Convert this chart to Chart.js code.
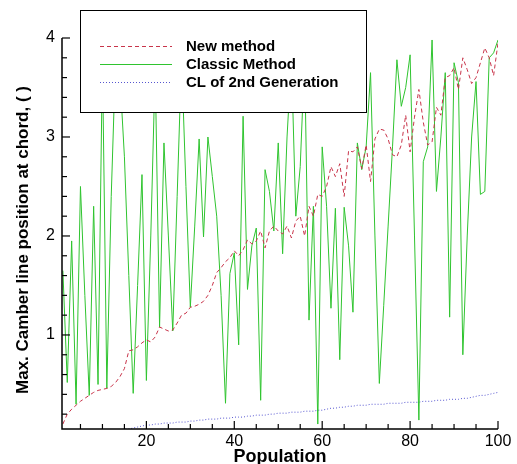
<!DOCTYPE html>
<html>
<head>
<meta charset="utf-8">
<script src="https://cdn.jsdelivr.net/npm/chart.js@4.4.0/dist/chart.umd.min.js"></script>
<style>
body { margin: 0; background: #fff; }
</style>
</head>
<body>
<canvas id="chart_camber" width="517" height="464"></canvas>
<script>
var population = Array.from({length: 100}, function (_, i) { return i + 1; });

var newMethod = [
  0.10, 0.20, 0.25, 0.29, 0.33, 0.36, 0.39, 0.42, 0.44, 0.45,
  0.46, 0.48, 0.52, 0.58, 0.66, 0.84, 0.85, 0.88, 0.92, 0.95,
  0.93, 0.98, 1.08, 1.06, 1.04, 1.05, 1.12, 1.20, 1.22, 1.28,
  1.29, 1.31, 1.34, 1.40, 1.50, 1.63, 1.68, 1.74, 1.78, 1.85,
  1.80, 1.86, 1.96, 1.92, 1.95, 2.05, 1.88, 2.05, 2.10, 2.05,
  2.02, 2.10, 1.98, 2.15, 2.20, 2.00, 2.30, 2.20, 2.42, 2.40,
  2.50, 2.70, 2.60, 2.73, 2.40, 2.86, 2.85, 2.90, 2.68, 2.92,
  2.55, 2.98, 3.08, 3.07, 2.98, 2.82, 2.80, 2.92, 3.22, 2.85,
  3.20, 3.48, 3.15, 2.92, 2.95, 3.30, 3.22, 3.60, 3.62, 3.70,
  3.48, 3.80, 3.68, 3.54, 3.60, 3.75, 3.90, 3.80, 3.62, 3.95
];

var classicMethod = [
  1.65, 0.52, 1.95, 0.30, 2.50, 1.40, 0.39, 2.30, 0.50, 3.80,
  0.46, 2.40, 3.80, 3.60, 2.80, 1.60, 0.41, 1.50, 2.62, 0.54,
  2.00, 3.70, 1.08, 2.94, 2.00, 1.04, 2.40, 3.80, 2.50, 1.28,
  2.10, 2.98, 1.99, 3.00, 2.60, 2.20, 1.40, 0.31, 1.62, 1.83,
  0.90, 3.21, 1.46, 1.90, 2.08, 0.34, 2.67, 2.45, 2.05, 2.94,
  1.82, 3.00, 3.80, 2.20, 2.70, 3.80, 1.15, 2.30, 0.10, 2.90,
  2.30, 1.27, 2.28, 0.75, 2.29, 1.90, 1.23, 2.94, 2.67, 2.90,
  3.65, 2.00, 0.51, 1.30, 2.10, 2.90, 3.78, 3.31, 3.50, 3.83,
  2.00, 0.14, 2.75, 2.90, 3.98, 2.45, 3.00, 3.65, 1.18, 3.75,
  3.55, 0.80, 2.00, 3.00, 3.56, 2.42, 2.45, 3.80, 3.85, 3.98
];

var clSecondGen = [
  0.00, 0.00, 0.01, 0.01, 0.01, 0.02, 0.02, 0.02, 0.03, 0.03,
  0.03, 0.04, 0.04, 0.04, 0.05, 0.05, 0.06, 0.07, 0.08, 0.09,
  0.09, 0.10, 0.10, 0.11, 0.11, 0.11, 0.12, 0.12, 0.12, 0.13,
  0.13, 0.14, 0.14, 0.15, 0.15, 0.15, 0.16, 0.16, 0.16, 0.17,
  0.17, 0.17, 0.18, 0.18, 0.19, 0.19, 0.19, 0.20, 0.20, 0.21,
  0.21, 0.21, 0.22, 0.22, 0.22, 0.23, 0.23, 0.23, 0.24, 0.24,
  0.25, 0.26, 0.26, 0.27, 0.27, 0.28, 0.28, 0.29, 0.29, 0.29,
  0.30, 0.30, 0.30, 0.30, 0.31, 0.31, 0.31, 0.31, 0.32, 0.32,
  0.32, 0.32, 0.33, 0.33, 0.33, 0.34, 0.34, 0.34, 0.35, 0.35,
  0.35, 0.36, 0.36, 0.37, 0.38, 0.39, 0.39, 0.40, 0.41, 0.42
];

var seriesLabels = ["New method", "Classic Method", "CL of 2nd Generation"];
var xLabels = [20, 40, 60, 80, 100];
var yLabels = [1, 2, 3, 4];

function toPoints(values) {
  return values.map(function (v, i) { return {x: population[i], y: v}; });
}

function isLabel(list, v) {
  for (var i = 0; i < list.length; i++) {
    if (Math.abs(list[i] - v) < 1e-6) return true;
  }
  return false;
}

var fontFam = "'Liberation Sans', Arial, sans-serif";

// axes, inner ticks, titles and the boxed legend
var frame = {
  id: 'frame',
  afterDraw: function (chart) {
    var ctx = chart.ctx;
    var a = chart.chartArea;
    var xs = chart.scales.x, ys = chart.scales.y;
    ctx.save();
    ctx.strokeStyle = '#000';
    ctx.lineWidth = 1.5;
    ctx.beginPath();
    ctx.moveTo(a.left, a.top);
    ctx.lineTo(a.left, a.bottom);
    ctx.lineTo(a.right, a.bottom);
    ctx.stroke();

    ctx.lineWidth = 1.2;
    xs.ticks.forEach(function (t) {
      var px = xs.getPixelForValue(t.value);
      var len = isLabel(xLabels, t.value) ? 8 : 5;
      ctx.beginPath();
      ctx.moveTo(px, a.bottom);
      ctx.lineTo(px, a.bottom - len);
      ctx.stroke();
    });
    ys.ticks.forEach(function (t) {
      var py = ys.getPixelForValue(t.value);
      var len = isLabel(yLabels, t.value) ? 8 : 5;
      ctx.beginPath();
      ctx.moveTo(a.left, py);
      ctx.lineTo(a.left + len, py);
      ctx.stroke();
    });

    ctx.fillStyle = '#000';
    ctx.font = 'bold 18px ' + fontFam;
    ctx.textAlign = 'center';
    ctx.textBaseline = 'alphabetic';
    ctx.fillText('Population', (a.left + a.right) / 2, 462);

    ctx.save();
    ctx.translate(28, 240);
    ctx.rotate(-Math.PI / 2);
    ctx.font = 'bold 17px ' + fontFam;
    ctx.fillText('Max. Camber line position at chord, ( )', 0, 0);
    ctx.restore();

    // legend box
    ctx.fillStyle = '#fff';
    ctx.fillRect(80, 10, 286, 102);
    ctx.lineWidth = 1;
    ctx.strokeStyle = '#000';
    ctx.strokeRect(80.5, 10.5, 286, 102);
    var rows = [46, 64, 82];
    chart.data.datasets.forEach(function (ds, i) {
      ctx.strokeStyle = ds.borderColor;
      ctx.lineWidth = ds.borderWidth;
      ctx.setLineDash(ds.borderDash || []);
      ctx.beginPath();
      ctx.moveTo(100, rows[i] + 0.5);
      ctx.lineTo(172, rows[i] + 0.5);
      ctx.stroke();
      ctx.setLineDash([]);
      ctx.fillStyle = '#000';
      ctx.font = 'bold 15px ' + fontFam;
      ctx.textAlign = 'left';
      ctx.textBaseline = 'middle';
      ctx.fillText(ds.label, 186, rows[i] + 1);
    });
    ctx.restore();
  }
};

new Chart(document.getElementById("chart_camber"), {
  type: 'line',
  data: {
    datasets: [{
      label: seriesLabels[0],
      data: toPoints(newMethod),
      borderColor: '#c8344a',
      borderWidth: 1,
      borderDash: [4, 3],
      pointRadius: 0,
      tension: 0
    }, {
      label: seriesLabels[1],
      data: toPoints(classicMethod),
      borderColor: '#2fc42f',
      borderWidth: 1,
      pointRadius: 0,
      tension: 0
    }, {
      label: seriesLabels[2],
      data: toPoints(clSecondGen),
      borderColor: '#5656d0',
      borderWidth: 1,
      borderDash: [1, 2],
      pointRadius: 0,
      tension: 0
    }]
  },
  options: {
    responsive: false,
    animation: false,
    layout: { padding: { top: 38, right: 19, left: 0, bottom: 0 } },
    plugins: {
      legend: { display: false },
      tooltip: { enabled: false }
    },
    scales: {
      x: {
        type: 'linear',
        min: 0.8,
        max: 100,
        grid: { display: false, drawTicks: false },
        border: { display: false },
        ticks: {
          stepSize: 5,
          includeBounds: false,
          autoSkip: false,
          maxRotation: 0,
          padding: 3,
          color: '#000',
          font: { size: 16, family: fontFam },
          callback: function (v) { return isLabel(xLabels, v) ? String(v) : ''; }
        },
        afterFit: function (s) { s.height = 35; }
      },
      y: {
        type: 'linear',
        min: 0.05,
        max: 4,
        grid: { display: false, drawTicks: false },
        border: { display: false },
        ticks: {
          stepSize: 0.2,
          includeBounds: false,
          autoSkip: false,
          padding: 7,
          color: '#000',
          font: { size: 16, family: fontFam },
          callback: function (v) { return isLabel(yLabels, v) ? String(Math.round(v)) : ''; }
        },
        afterFit: function (s) { s.width = 62; }
      }
    }
  },
  plugins: [frame]
});
</script>
</body>
</html>
